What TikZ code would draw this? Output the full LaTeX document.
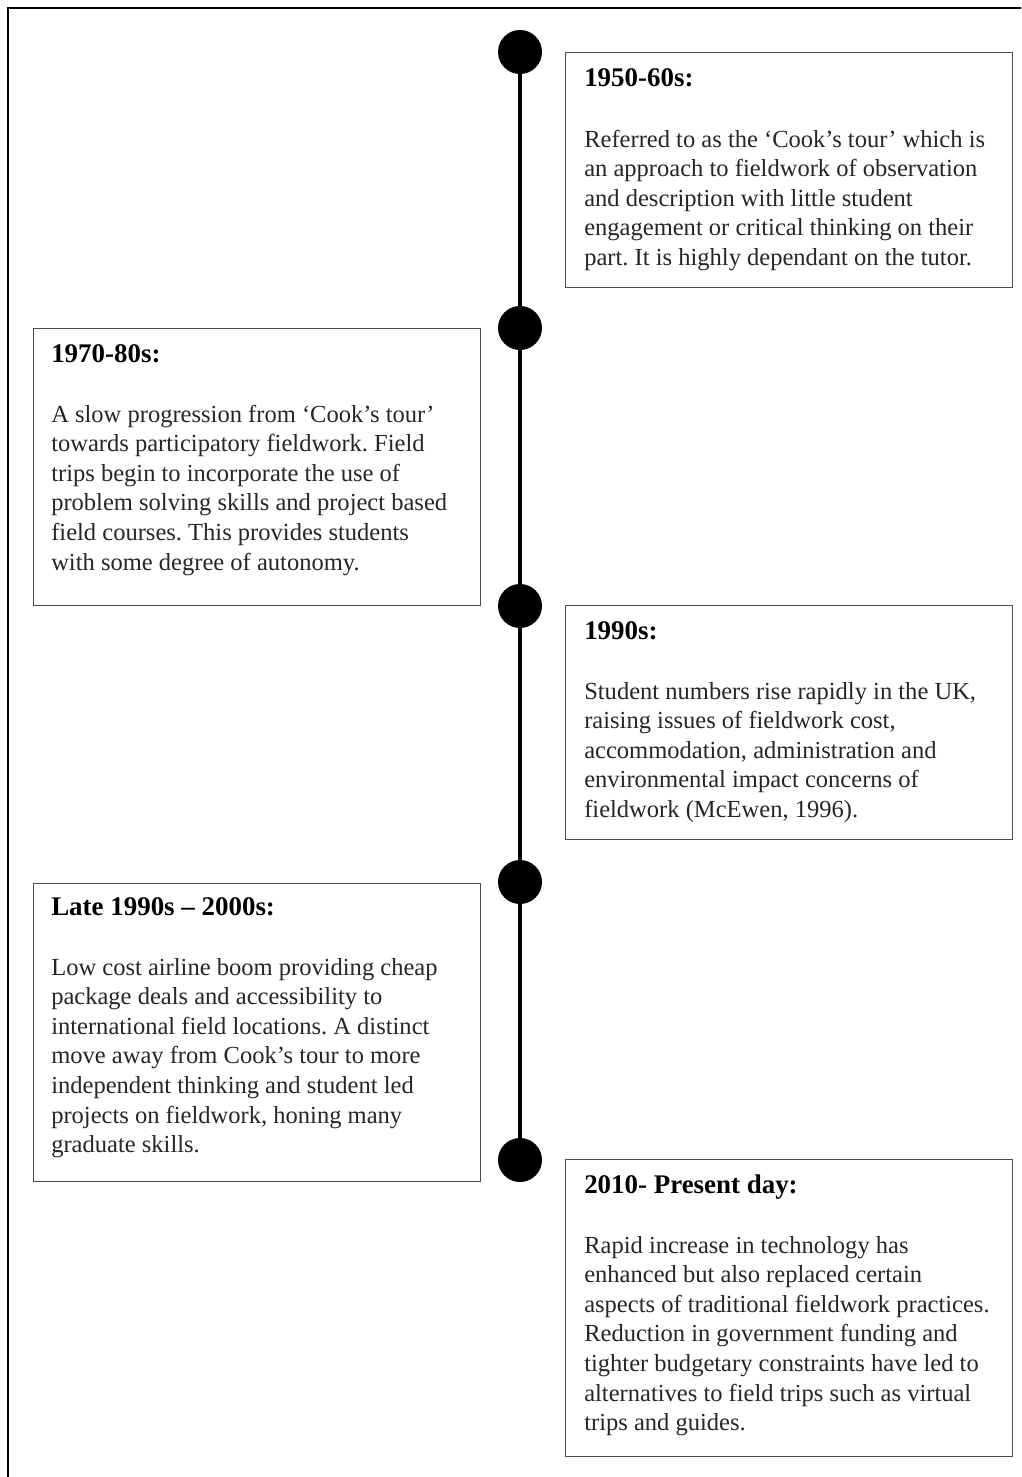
\documentclass[tikz,border=0pt]{standalone}
\usepackage{fontspec}
\setmainfont{Liberation Serif}
\frenchspacing
\begin{document}
\begin{tikzpicture}[x=0.75pt,y=-0.75pt,
  dot/.style={circle, fill=black, draw=none, minimum size=33pt, inner sep=0pt},
  evbox/.style={rectangle, draw=black!70, line width=1pt, inner sep=0pt,
    anchor=north west, minimum width=335.25pt},
  evhead/.style={anchor=base west, inner sep=0pt,
    font=\fontsize{20.2}{24}\selectfont\bfseries},
  evbody/.style={anchor=base west, inner sep=0pt, text=black!85,
    font=\fontsize{18.4}{22.2}\selectfont\frenchspacing}]
\useasboundingbox (0,0) rectangle (1021,1477);
\clip (0,0) rectangle (1021,1477);
\fill[white] (0,0) rectangle (1021,1477);

% page frame (open towards the right and the bottom)
\coordinate (fbl) at (8,1495);
\coordinate (ftl) at (8,8);
\coordinate (ftr) at (1040,8);
\draw[line width=1.5pt] (fbl) -- (ftl) -- (ftr);

% timeline dots and spine
\node[dot] (d1) at (520,52) {};
\node[dot] (d2) at (520,328) {};
\node[dot] (d3) at (520,606) {};
\node[dot] (d4) at (520,882) {};
\node[dot] (d5) at (520,1160) {};
\draw[line width=3pt] (d1.center) -- (d5.center);

% event boxes
\node[evbox, minimum height=176.25pt] (b1) at (565,52) {};
\node[evbox, minimum height=207.75pt] (b2) at (33,328) {};
\node[evbox, minimum height=175.5pt] (b3) at (565,605) {};
\node[evbox, minimum height=223.5pt] (b4) at (33,883) {};
\node[evbox, minimum height=222.75pt] (b5) at (565,1159) {};

% 1950-60s
\node[evhead] (h1) at (584,87) {1950-60s:};
\node[evbody] (t1) at (584,147) {\begin{tabular}[t]{@{}l@{}}
Referred to as the ‘Cook’s tour’ which is\\
an approach to fieldwork of observation\\
and description with little student\\
engagement or critical thinking on their\\
part. It is highly dependant on the tutor.
\end{tabular}};

% 1970-80s
\node[evhead] (h2) at (51,362) {1970-80s:};
\node[evbody] (t2) at (51,422) {\begin{tabular}[t]{@{}l@{}}
A slow progression from ‘Cook’s tour’\\
towards participatory fieldwork. Field\\
trips begin to incorporate the use of\\
problem solving skills and project based\\
field courses. This provides students\\
with some degree of autonomy.
\end{tabular}};

% 1990s
\node[evhead] (h3) at (584,639) {1990s:};
\node[evbody] (t3) at (584,699) {\begin{tabular}[t]{@{}l@{}}
Student numbers rise rapidly in the UK,\\
raising issues of fieldwork cost,\\
accommodation, administration and\\
environmental impact concerns of\\
fieldwork (McEwen, 1996).
\end{tabular}};

% Late 1990s - 2000s
\node[evhead] (h4) at (51,915) {Late 1990s – 2000s:};
\node[evbody] (t4) at (51,975) {\begin{tabular}[t]{@{}l@{}}
Low cost airline boom providing cheap\\
package deals and accessibility to\\
international field locations. A distinct\\
move away from Cook’s tour to more\\
independent thinking and student led\\
projects on fieldwork, honing many\\
graduate skills.
\end{tabular}};

% 2010 - present
\node[evhead] (h5) at (584,1193) {2010- Present day:};
\node[evbody] (t5) at (584,1253) {\begin{tabular}[t]{@{}l@{}}
Rapid increase in technology has\\
enhanced but also replaced certain\\
aspects of traditional fieldwork practices.\\
Reduction in government funding and\\
tighter budgetary constraints have led to\\
alternatives to field trips such as virtual\\
trips and guides.
\end{tabular}};
\end{tikzpicture}
\end{document}
